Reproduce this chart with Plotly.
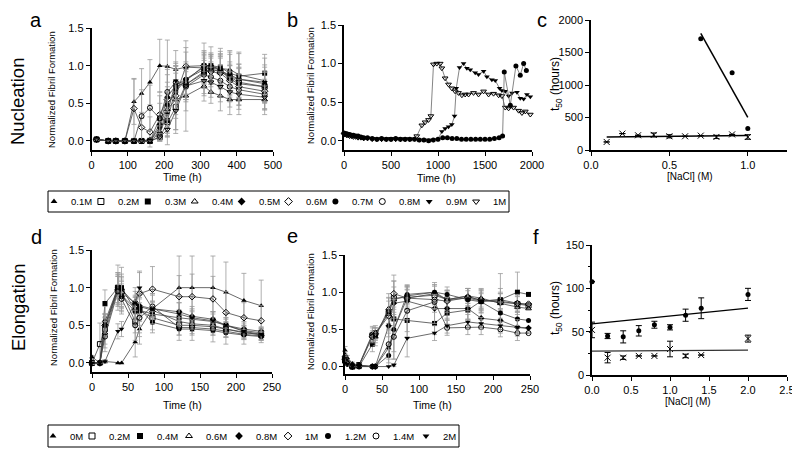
import numpy as np
import plotly.graph_objects as go

# screen is 800x454; the page body adds an 8px margin, so the figure is 792x446
SCREEN_W, SCREEN_H = 800, 454
OFF = 8
W, H = SCREEN_W - OFF, SCREEN_H - OFF
FONT = "Liberation Sans, Arial, sans-serif"

# ---------------- Panel a (Nucleation kinetics) ----------------
a_time = [14, 46, 67, 92, 117, 138, 161, 188, 209, 232, 260, 310, 329, 355, 381, 406, 477]
a_01 = [0.02, 0, 0, 0, 0.52, 0.63, 0.78, 1.0, 0.99, 0.95, 0.98, 0.97, 0.99, 0.96, 0.95, 0.88, 0.80]
a_02 = [0.02, 0, 0, 0, 0, 0, 0, 0.05, 0.25, 0.45, 0.75, 0.92, 0.95, 0.92, 0.85, 0.78, 0.72]
a_03 = [0.02, 0, 0, 0, 0, 0, 0, 0.30, 0.27, 0.70, 0.80, 1.0, 1.0, 0.98, 0.90, 0.86, 0.90]
a_04 = [0.02, 0, 0, 0, 0, 0, 0.02, 0.12, 0.42, 0.55, 0.60, 0.73, 0.65, 0.60, 0.55, 0.55, 0.55]
a_05 = [0.02, 0, 0, 0, 0, 0, 0, 0.22, 0.58, 0.74, 0.82, 0.98, 1.0, 0.94, 0.82, 0.76, 0.72]
a_06 = [0.02, 0, 0, 0, 0.43, 0.18, 0.12, 0.35, 0.55, 0.60, 0.99, 1.0, 0.92, 0.90, 0.80, 0.72, 0.66]
a_07 = [0.02, 0, 0, 0, 0, 0, 0, 0.18, 0.48, 0.65, 0.82, 0.95, 0.97, 0.95, 0.85, 0.82, 0.76]
a_08 = [0.02, 0, 0, 0, 0, 0.33, 0.44, 0.30, 0.65, 0.78, 0.72, 0.88, 0.85, 0.80, 0.72, 0.68, 0.62]
a_09 = [0.02, 0, 0, 0, 0, 0, 0, 0.10, 0.36, 0.80, 0.75, 0.90, 0.95, 0.93, 0.88, 0.82, 0.78]
a_10 = [0.02, 0, 0, 0, 0, 0, 0, 0.05, 0.15, 0.40, 0.73, 0.80, 0.78, 0.72, 0.65, 0.62, 0.58]
a_01_err = [0.02, 0, 0, 0, 0.30, 0.33, 0.30, 0.35, 0.35, 0.25, 0.20, 0.20, 0.15, 0.20, 0.25, 0.30, 0.30]
a_02_err = [0.01, 0, 0, 0, 0, 0, 0, 0.05, 0.20, 0.30, 0.20, 0.15, 0.20, 0.20, 0.20, 0.20, 0.20]
a_03_err = [0.01, 0, 0, 0, 0, 0, 0, 0.20, 0.20, 0.30, 0.25, 0.30, 0.25, 0.25, 0.25, 0.30, 0.25]
a_04_err = [0.01, 0, 0, 0, 0, 0, 0.02, 0.10, 0.30, 0.45, 0.20, 0.20, 0.15, 0.20, 0.20, 0.20, 0.20]
a_05_err = [0.01, 0, 0, 0, 0, 0, 0, 0.15, 0.30, 0.25, 0.20, 0.20, 0.15, 0.25, 0.20, 0.20, 0.20]
a_06_err = [0.01, 0, 0, 0, 0.40, 0.20, 0.20, 0.30, 0.45, 0.30, 0.25, 0.20, 0.20, 0.20, 0.20, 0.25, 0.25]
a_07_err = [0.01, 0, 0, 0, 0, 0, 0, 0.15, 0.30, 0.30, 0.20, 0.20, 0.20, 0.20, 0.15, 0.20, 0.25]
a_08_err = [0.01, 0, 0, 0, 0, 0.35, 0.30, 0.30, 0.30, 0.25, 0.20, 0.25, 0.20, 0.20, 0.20, 0.20, 0.20]
a_09_err = [0.01, 0, 0, 0, 0, 0, 0, 0.10, 0.30, 0.25, 0.20, 0.20, 0.15, 0.20, 0.30, 0.20, 0.20]
a_10_err = [0.01, 0, 0, 0, 0, 0, 0, 0.05, 0.20, 0.25, 0.60, 0.20, 0.20, 0.20, 0.20, 0.20, 0.15]

# ---------------- Panel b (long nucleation, 0.7M / 0.9M / 1M) ----------------
b_t_early = [0, 15, 30, 45, 60, 80, 100, 125, 150, 180, 210, 250, 300, 350, 400, 450, 500, 550, 600, 650, 700]
b_07_t_late = [750, 800, 850, 900, 950, 1000, 1050, 1100, 1150, 1200, 1250, 1300, 1350, 1400, 1450, 1500,
               1550, 1600, 1650, 1687, 1705, 1769, 1829, 1875, 1911, 1940]
b_07_early = [0.10, 0.09, 0.09, 0.08, 0.08, 0.07, 0.07, 0.06, 0.06, 0.05, 0.04, 0.04, 0.03, 0.02, 0.03, 0.02,
              0.02, 0.03, 0.02, 0.02, 0.02]
b_07_late = [0.02, 0.01, 0.01, 0.0, 0.01, 0.02, 0.04, 0.04, 0.03, 0.03, 0.02, 0.02, 0.02, 0.02, 0.02, 0.02,
             0.02, 0.03, 0.04, 0.06, 0.89, 0.46, 0.97, 0.85, 1.0, 0.91]
b_09_t_late = [750, 800, 850, 900, 950, 1000, 1041, 1076, 1112, 1147, 1176, 1194, 1229, 1272, 1307, 1343,
               1396, 1431, 1485, 1520, 1573, 1609, 1655, 1680, 1716, 1751, 1787, 1840, 1875, 1911, 1946, 1982]
b_09_early = [0.09, 0.09, 0.08, 0.08, 0.07, 0.07, 0.06, 0.06, 0.05, 0.05, 0.04, 0.03, 0.03, 0.02, 0.02, 0.02,
              0.03, 0.02, 0.02, 0.02, 0.02]
b_09_late = [0.02, 0.01, 0.01, 0.01, 0.01, 0.02, 0.12, 0.16, 0.18, 0.21, 0.32, 0.68, 0.95, 1.0, 0.94, 0.92,
             0.88, 0.86, 0.90, 0.83, 0.79, 0.78, 0.68, 0.65, 0.64, 0.58, 0.62, 0.63, 0.55, 0.54, 0.60, 0.57]
b_10_t_late = [774, 828, 863, 899, 924, 952, 987, 1023, 1041, 1076, 1112, 1147, 1183, 1218, 1254, 1289, 1325,
               1378, 1431, 1485, 1538, 1591, 1645, 1680, 1716, 1751, 1804, 1858, 1893, 1929, 1982]
b_10_early = [0.08, 0.08, 0.07, 0.07, 0.06, 0.06, 0.05, 0.05, 0.04, 0.04, 0.03, 0.03, 0.02, 0.02, 0.02, 0.02,
              0.02, 0.02, 0.02, 0.02, 0.02]
b_10_late = [0.06, 0.20, 0.24, 0.27, 0.32, 0.99, 1.0, 1.0, 0.94, 0.81, 0.73, 0.68, 0.64, 0.62, 0.59, 0.60,
             0.60, 0.62, 0.60, 0.64, 0.60, 0.61, 0.59, 0.58, 0.43, 0.42, 0.43, 0.39, 0.36, 0.38, 0.34]

# ---------------- Panel c (nucleation t50) ----------------
c_nacl_x = [0.1, 0.2, 0.3, 0.4, 0.5, 0.6, 0.7, 0.8, 0.9, 1.0]
c_t50_x = [124, 252, 227, 232, 211, 211, 221, 201, 240, 200]
c_t50_x_err = [0, 0, 0, 30, 25, 0, 0, 25, 0, 35]
c_nacl_dot = [0.7, 0.9, 1.0]
c_t50_dot = [1710, 1190, 330]

# ---------------- Panel d (Elongation, seeded) ----------------
d_time = [0, 11, 18, 36, 41, 60, 66, 84, 121, 139, 168, 186, 211, 235]
d_00 = [0.08, 0.0, 0.02, 0.0, 0.0, 0.28, 0.45, 0.72, 1.0, 1.0, 1.0, 0.94, 0.83, 0.76]
d_02 = [0.0, 0.25, 0.45, 1.0, 0.95, 0.55, 0.70, 0.60, 0.50, 0.50, 0.48, 0.45, 0.40, 0.37]
d_04 = [0.0, 0.0, 0.79, 1.0, 1.0, 0.70, 0.70, 0.65, 0.60, 0.58, 0.55, 0.50, 0.43, 0.40]
d_06 = [0.0, 0.0, 0.40, 0.98, 0.90, 0.72, 0.75, 0.70, 0.55, 0.52, 0.50, 0.45, 0.40, 0.38]
d_08 = [0.0, 0.0, 0.55, 1.0, 0.98, 0.78, 0.76, 0.72, 0.68, 0.62, 0.58, 0.50, 0.45, 0.42]
d_10 = [0.0, 0.0, 0.50, 0.97, 0.93, 0.80, 0.92, 0.98, 0.88, 0.88, 0.85, 0.67, 0.60, 0.56]
d_12 = [0.0, 0.0, 0.50, 1.0, 0.88, 0.68, 0.72, 0.54, 0.45, 0.45, 0.43, 0.40, 0.37, 0.35]
d_14 = [0.0, 0.0, 0.35, 0.95, 0.85, 0.50, 0.60, 0.75, 0.47, 0.47, 0.45, 0.42, 0.38, 0.36]
d_20 = [0.0, 0.0, 0.02, 0.42, 0.45, 0.80, 1.0, 0.72, 0.65, 0.60, 0.56, 0.50, 0.42, 0.38]
d_00_err = [0.02, 0, 0.02, 0, 0, 0.20, 0.20, 0.20, 0.42, 0.42, 0.42, 0.40, 0.36, 0.34]
d_02_err = [0.02, 0.28, 0.20, 0.20, 0.20, 0.15, 0.30, 0.20, 0.20, 0.20, 0.20, 0.20, 0.15, 0.10]
d_04_err = [0.02, 0, 0.18, 0.30, 0.27, 0.20, 0.20, 0.10, 0.10, 0.10, 0.10, 0.08, 0.07, 0.06]
d_06_err = [0.02, 0, 0.20, 0.20, 0.20, 0.15, 0.20, 0.12, 0.10, 0.10, 0.10, 0.10, 0.08, 0.07]
d_08_err = [0.02, 0, 0.20, 0.15, 0.20, 0.10, 0.15, 0.10, 0.12, 0.10, 0.10, 0.10, 0.08, 0.06]
d_10_err = [0.02, 0, 0.15, 0.20, 0.20, 0.20, 0.30, 0.30, 0.28, 0.30, 0.30, 0.28, 0.20, 0.20]
d_12_err = [0.02, 0, 0.15, 0.20, 0.20, 0.15, 0.15, 0.10, 0.08, 0.06, 0.06, 0.06, 0.06, 0.05]
d_14_err = [0.02, 0, 0.20, 0.20, 0.20, 0.20, 0.25, 0.15, 0.10, 0.10, 0.08, 0.08, 0.06, 0.06]
d_20_err = [0.02, 0, 0.02, 0.10, 0.10, 0.15, 0.20, 0.20, 0.15, 0.15, 0.12, 0.10, 0.08, 0.07]

# ---------------- Panel e (Elongation, second set) ----------------
e_time = [0, 3, 10, 19, 37, 41, 59, 66, 84, 121, 138, 166, 184, 210, 233, 248]
e_00 = [0.22, 0.12, 0.04, 0.02, 0.0, 0.0, 0.25, 0.50, 0.92, 0.98, 0.90, 0.95, 0.88, 0.90, 0.85, 0.83]
e_02 = [0.08, 0.05, 0.0, 0.02, 0.42, 0.45, 0.72, 0.92, 0.93, 0.96, 0.90, 0.92, 0.88, 0.88, 0.84, 0.82]
e_04 = [0.10, 0.04, 0.0, 0.0, 0.30, 0.42, 0.73, 0.64, 0.62, 0.58, 0.72, 0.76, 0.88, 0.90, 1.0, 0.97]
e_06 = [0.15, 0.06, 0.0, 0.02, 0.44, 0.40, 0.78, 0.90, 0.95, 1.0, 0.90, 0.95, 0.92, 0.85, 0.80, 0.78]
e_08 = [0.12, 0.05, 0.0, 0.01, 0.0, 0.0, 0.55, 0.85, 0.88, 0.78, 0.78, 0.78, 0.65, 0.62, 0.53, 0.52]
e_10 = [0.10, 0.04, 0.0, 0.01, 0.40, 0.44, 0.68, 0.98, 0.92, 0.90, 0.88, 0.93, 0.90, 0.86, 0.85, 0.84]
e_12 = [0.10, 0.05, 0.02, 0.02, 0.0, 0.0, 0.15, 0.50, 0.97, 1.0, 0.97, 0.90, 0.87, 0.72, 0.64, 0.62]
e_14 = [0.08, 0.04, 0.0, 0.0, 0.0, 0.0, 0.30, 0.40, 0.75, 0.87, 0.52, 0.53, 0.53, 0.50, 0.45, 0.45]
e_20 = [0.05, 0.03, 0.0, 0.0, 0.0, 0.0, 0.0, 0.02, 0.38, 0.45, 0.55, 0.60, 0.58, 0.55, 0.53, 0.51]
e_00_err = [0.05, 0.03, 0.02, 0.02, 0, 0, 0.20, 0.30, 0.15, 0.15, 0.12, 0.10, 0.10, 0.15, 0.15, 0]
e_02_err = [0.03, 0.02, 0, 0.02, 0.10, 0.10, 0.20, 0.15, 0.15, 0.12, 0.12, 0.10, 0.12, 0.10, 0.10, 0]
e_04_err = [0.04, 0.02, 0, 0, 0.10, 0.10, 0.20, 0.25, 0.15, 0.15, 0.15, 0.12, 0.15, 0.35, 0.27, 0]
e_06_err = [0.05, 0.02, 0, 0.02, 0.10, 0.12, 0.20, 0.25, 0.12, 0.10, 0.10, 0.10, 0.12, 0.15, 0.15, 0]
e_08_err = [0.04, 0.02, 0, 0.01, 0, 0, 0.15, 0.30, 0.15, 0.20, 0.15, 0.15, 0.12, 0.15, 0.12, 0]
e_10_err = [0.03, 0.02, 0, 0.01, 0.08, 0.08, 0.20, 0.25, 0.12, 0.12, 0.15, 0.12, 0.15, 0.12, 0.12, 0]
e_12_err = [0.04, 0.02, 0.02, 0.02, 0, 0, 0.15, 0.40, 0.12, 0.10, 0.10, 0.15, 0.15, 0.15, 0.12, 0]
e_14_err = [0.03, 0.02, 0, 0, 0, 0, 0.20, 0.30, 0.35, 0.10, 0.10, 0.10, 0.10, 0.10, 0.10, 0]
e_20_err = [0.02, 0.01, 0, 0, 0, 0, 0, 0.02, 0.25, 0.10, 0.10, 0.10, 0.08, 0.10, 0.10, 0]

# ---------------- Panel f (elongation t50) ----------------
f_nacl = [0.0, 0.2, 0.4, 0.6, 0.8, 1.0, 1.2, 1.4, 2.0]
f_t50_dot = [107.7, 45, 44, 51, 58, 55, 69, 77, 93]
f_t50_dot_err = [0, 3, 7, 6, 4, 3, 7, 12, 7]
f_t50_x = [52, 20, 20, 22, 22, 30, 22, 23, 42]
f_t50_x_err = [9, 6, 2, 0, 0, 9, 2, 0, 4]

# ---------------- labels / styling lists ----------------
nuc_labels = ["0.1M", "0.2M", "0.3M", "0.4M", "0.5M", "0.6M", "0.7M", "0.8M", "0.9M", "1M"]
elo_labels = ["0M", "0.2M", "0.4M", "0.6M", "0.8M", "1M", "1.2M", "1.4M", "2M"]
nuc_symbols = ["triangle-up", "square-open", "square", "triangle-up-open", "diamond", "diamond-open",
               "circle", "circle-open", "triangle-down", "triangle-down-open"]
elo_symbols = ["triangle-up", "square-open", "square", "triangle-up-open", "diamond", "diamond-open",
               "circle", "circle-open", "triangle-down"]

a_series = [a_01, a_02, a_03, a_04, a_05, a_06, a_07, a_08, a_09, a_10]
a_errors = [a_01_err, a_02_err, a_03_err, a_04_err, a_05_err, a_06_err, a_07_err, a_08_err, a_09_err, a_10_err]
d_series = [d_00, d_02, d_04, d_06, d_08, d_10, d_12, d_14, d_20]
d_errors = [d_00_err, d_02_err, d_04_err, d_06_err, d_08_err, d_10_err, d_12_err, d_14_err, d_20_err]
e_series = [e_00, e_02, e_04, e_06, e_08, e_10, e_12, e_14, e_20]
e_errors = [e_00_err, e_02_err, e_04_err, e_06_err, e_08_err, e_10_err, e_12_err, e_14_err, e_20_err]

fig = go.Figure()


def marker_style(sym, size=5):
    hollow = sym.endswith("-open")
    return dict(symbol=sym, size=size, color="black",
                line=dict(color="black", width=1 if hollow else 0))


def add_kinetic(x, y, err, sym, xa, ya):
    fig.add_trace(go.Scatter(
        x=x, y=y, mode="lines+markers", xaxis=xa, yaxis=ya,
        line=dict(color="#444444", width=0.8),
        marker=marker_style(sym, 5),
        error_y=dict(type="data", array=err, color="#9a9a9a", thickness=0.8, width=2.5),
        showlegend=False, cliponaxis=False))


for y, err, sym in zip(a_series, a_errors, nuc_symbols):
    add_kinetic(a_time, y, err, sym, "x", "y")

b_sets = [(b_t_early + b_10_t_late, b_10_early + b_10_late, "triangle-down-open"),
          (b_t_early + b_09_t_late, b_09_early + b_09_late, "triangle-down"),
          (b_t_early + b_07_t_late, b_07_early + b_07_late, "circle")]
for bx, by, sym in b_sets:
    fig.add_trace(go.Scatter(x=bx, y=by, mode="lines+markers", xaxis="x2", yaxis="y2",
                             line=dict(color="#666666", width=0.8),
                             marker=marker_style(sym, 5), showlegend=False, cliponaxis=False))

# panel c
fig.add_trace(go.Scatter(x=c_nacl_x, y=c_t50_x, mode="markers", xaxis="x3", yaxis="y3",
                         marker=dict(symbol="x-thin-open", size=6, color="black",
                                     line=dict(color="black", width=1)),
                         error_y=dict(type="data", array=c_t50_x_err, color="black", thickness=1, width=3),
                         showlegend=False, cliponaxis=False))
fig.add_trace(go.Scatter(x=c_nacl_dot, y=c_t50_dot, mode="markers", xaxis="x3", yaxis="y3",
                         marker=dict(symbol="circle", size=5, color="black"),
                         showlegend=False, cliponaxis=False))
for xs, ys in [(c_nacl_x, c_t50_x), (c_nacl_dot, c_t50_dot)]:
    k, b0 = np.polyfit(xs, ys, 1)
    xl = [min(xs), max(xs)]
    fig.add_trace(go.Scatter(x=xl, y=[k * v + b0 for v in xl], mode="lines", xaxis="x3", yaxis="y3",
                             line=dict(color="black", width=1.5), showlegend=False))

for y, err, sym in zip(d_series, d_errors, elo_symbols):
    add_kinetic(d_time, y, err, sym, "x4", "y4")
for y, err, sym in zip(e_series, e_errors, elo_symbols):
    add_kinetic(e_time, y, err, sym, "x5", "y5")

# panel f
fig.add_trace(go.Scatter(x=f_nacl, y=f_t50_x, mode="markers", xaxis="x6", yaxis="y6",
                         marker=dict(symbol="x-thin-open", size=6, color="black",
                                     line=dict(color="black", width=1)),
                         error_y=dict(type="data", array=f_t50_x_err, color="black", thickness=1, width=3),
                         showlegend=False, cliponaxis=False))
fig.add_trace(go.Scatter(x=f_nacl, y=f_t50_dot, mode="markers", xaxis="x6", yaxis="y6",
                         marker=dict(symbol="circle", size=5, color="black"),
                         error_y=dict(type="data", array=f_t50_dot_err, color="black", thickness=1, width=3),
                         showlegend=False, cliponaxis=False))
for ys, col in [(f_t50_dot, "black"), (f_t50_x, "#333333")]:
    k, b0 = np.polyfit(f_nacl, ys, 1)
    xl = [min(f_nacl), max(f_nacl)]
    fig.add_trace(go.Scatter(x=xl, y=[k * v + b0 for v in xl], mode="lines", xaxis="x6", yaxis="y6",
                             line=dict(color=col, width=1.3), showlegend=False))

# ---------------- boxed legends (key layout on a screen-pixel overlay axis) ----------------
LEG1_X0, LEG1_STEP, LEG1_Y = 54, 46.9, 201.5
LEG2_XS = [53, 92, 140, 189, 239, 288, 328, 376, 426]
LEG2_Y = 436
TEXT_GAP = 16
leg1_xs = [LEG1_X0 + i * LEG1_STEP for i in range(len(nuc_labels))]

for xs, yc, syms in [(leg1_xs, LEG1_Y, nuc_symbols), (LEG2_XS, LEG2_Y, elo_symbols)]:
    for xk, sym in zip(xs, syms):
        fig.add_trace(go.Scatter(x=[xk], y=[yc], mode="markers", xaxis="x7", yaxis="y7",
                                 marker=marker_style(sym, 6), showlegend=False, cliponaxis=False,
                                 hoverinfo="skip"))


def fx(p):
    return (p - OFF) / W


def fy(p):
    return 1 - (p - OFF) / H


def dom_x(p0, p1):
    return [fx(p0), fx(p1)]


def dom_y(ptop, pbot):
    return [fy(pbot), fy(ptop)]


tickfont = dict(family=FONT, size=11, color="black")
base = dict(showline=True, linecolor="black", linewidth=1.5, ticks="outside", ticklen=4,
            tickwidth=1.2, tickcolor="black", showgrid=False, zeroline=False, tickfont=tickfont,
            fixedrange=True)
ytick_norm = dict(tickvals=[0, 0.5, 1.0, 1.5], ticktext=["0.0", "0.5", "1.0", "1.5"])

layout_axes = dict(
    xaxis=dict(base, domain=dom_x(91.5, 273), range=[0, 500], tickvals=[0, 100, 200, 300, 400, 500], anchor="y"),
    yaxis=dict(base, domain=dom_y(28, 150), range=[-0.12, 1.5], anchor="x", **ytick_norm),
    xaxis2=dict(base, domain=dom_x(344, 532), range=[0, 2000], tickvals=[0, 500, 1000, 1500, 2000], anchor="y2"),
    yaxis2=dict(base, domain=dom_y(25, 150), range=[-0.12, 1.5], anchor="x2", **ytick_norm),
    xaxis3=dict(base, domain=dom_x(591, 787), range=[0, 1.25], tickvals=[0, 0.5, 1.0],
                ticktext=["0.0", "0.5", "1.0"], anchor="y3"),
    yaxis3=dict(base, domain=dom_y(20, 150), range=[0, 2000], tickvals=[0, 500, 1000, 1500, 2000], anchor="x3"),
    xaxis4=dict(base, domain=dom_x(92, 272), range=[0, 250], tickvals=[0, 50, 100, 150, 200, 250], anchor="y4"),
    yaxis4=dict(base, domain=dom_y(250, 372), range=[-0.12, 1.5], anchor="x4", **ytick_norm),
    xaxis5=dict(base, domain=dom_x(345, 530), range=[0, 250], tickvals=[0, 50, 100, 150, 200, 250], anchor="y5"),
    yaxis5=dict(base, domain=dom_y(255, 374), range=[-0.1, 1.5], anchor="x5", **ytick_norm),
    xaxis6=dict(base, domain=dom_x(592, 787), range=[0, 2.5], tickvals=[0, 0.5, 1.0, 1.5, 2.0, 2.5],
                ticktext=["0.0", "0.5", "1.0", "1.5", "2.0", "2.5"], anchor="y6"),
    yaxis6=dict(base, domain=dom_y(245, 375), range=[0, 150], tickvals=[0, 50, 100, 150], anchor="x6",
                minor=dict(tickvals=[25, 75, 125], ticks="outside", ticklen=2, tickcolor="black")),
    xaxis7=dict(domain=[0, 1], range=[OFF, SCREEN_W], visible=False, fixedrange=True, anchor="y7"),
    yaxis7=dict(domain=[0, 1], range=[SCREEN_H, OFF], visible=False, fixedrange=True, anchor="x7"),
)


def ann(text, x, y, size, angle=0, xanchor="center", yanchor="middle"):
    return dict(text=text, x=fx(x), y=fy(y), xref="paper", yref="paper", showarrow=False,
                xanchor=xanchor, yanchor=yanchor, textangle=angle, borderpad=0,
                font=dict(family=FONT, size=size, color="black"))


annotations = [
    ann("Nucleation", 18, 102, 18.5, -90),
    ann("Elongation", 18, 308, 18.5, -90),
    ann("a", 36, 8, 20, yanchor="top"), ann("b", 292, 8, 20, yanchor="top"),
    ann("c", 542, 8, 20, yanchor="top"),
    ann("d", 36, 237, 20), ann("e", 292, 236, 20), ann("f", 536, 237, 20),
    ann("Normalized Fibril Formation", 52, 90, 9.5, -90),
    ann("Normalized Fibril Formation", 310, 86, 9.5, -90),
    ann("Normalized Fibril Formation", 53, 308, 9.5, -90),
    ann("Normalized Fibril Formation", 310, 312, 9.5, -90),
    ann("t<sub>50</sub> (hours)", 556, 84, 12, -90),
    ann("t<sub>50</sub> (hours)", 556, 308, 12, -90),
    ann("Time (h)", 182, 177, 10.5), ann("Time (h)", 437, 178, 10.5),
    ann("[NaCl] (M)", 690, 176, 10),
    ann("Time (h)", 182, 405, 10.5), ann("Time (h)", 432, 405, 10.5),
    ann("[NaCl] (M)", 688, 401, 10),
]
for xk, lab in zip(leg1_xs, nuc_labels):
    annotations.append(ann(lab, xk + TEXT_GAP, LEG1_Y, 9.5, 0, "left"))
for xk, lab in zip(LEG2_XS, elo_labels):
    annotations.append(ann(lab, xk + TEXT_GAP, LEG2_Y, 9.5, 0, "left"))

shapes = [
    dict(type="rect", xref="paper", yref="paper", x0=fx(48), x1=fx(509), y0=fy(212), y1=fy(191),
         line=dict(color="black", width=1)),
    dict(type="rect", xref="paper", yref="paper", x0=fx(48), x1=fx(459), y0=fy(447), y1=fy(425),
         line=dict(color="black", width=1)),
]

fig.update_layout(
    width=W, height=H, margin=dict(l=0, r=0, t=0, b=0, autoexpand=False),
    paper_bgcolor="white", plot_bgcolor="rgba(0,0,0,0)", showlegend=False,
    font=dict(family=FONT, color="black"),
    annotations=annotations, shapes=shapes,
    **layout_axes,
)

fig.write_html("out.html")
